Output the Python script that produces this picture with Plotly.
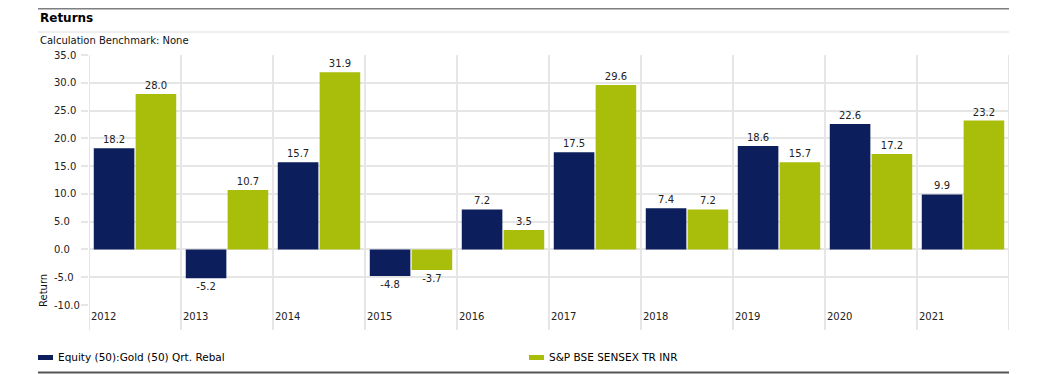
import plotly.graph_objects as go

years = ["2012", "2013", "2014", "2015", "2016", "2017", "2018", "2019", "2020", "2021"]
equity_gold = [18.2, -5.2, 15.7, -4.8, 7.2, 17.5, 7.4, 18.6, 22.6, 9.9]
sensex = [28.0, 10.7, 31.9, -3.7, 3.5, 29.6, 7.2, 15.7, 17.2, 23.2]
series_names = ["Equity (50):Gold (50) Qrt. Rebal", "S&P BSE SENSEX TR INR"]
y_ticks = [-10, -5, 0, 5, 10, 15, 20, 25, 30, 35]

NAVY = "#0c1f5c"
GREEN = "#a9bd0b"
GRID = "#e6e6e6"
FONT = "DejaVu Sans, Verdana, sans-serif"

OFF = 8  # page body margin offset
W, H = 1051 - OFF, 374 - OFF
L, R, T, B = 89 - OFF, 42, 55 - OFF, 69
pw = W - L - R
ph = H - T - B

xpos = list(range(len(years)))

fig = go.Figure()
for name, vals, col in [(series_names[0], equity_gold, NAVY), (series_names[1], sensex, GREEN)]:
    fig.add_trace(go.Bar(
        x=xpos, y=vals, name=name, marker=dict(color=col, line=dict(width=0)),
        text=[f"{v:.1f}" for v in vals], textposition="outside",
        textfont=dict(family=FONT, size=10, color="#222222"),
        cliponaxis=False, showlegend=False,
    ))


def px_x(x):
    return (x - OFF - L) / pw


def px_y(y):
    return (H - B - (y - OFF)) / ph


shapes = []
for i in range(len(years) + 1):
    shapes.append(dict(type="line", xref="x", yref="paper", x0=i - 0.5, x1=i - 0.5,
                       y0=-25 / ph, y1=1, line=dict(color=GRID, width=2), layer="below"))

annotations = []
for i, yr in enumerate(years):
    annotations.append(dict(x=i - 0.5, xref="x", y=px_y(316), yref="paper", text=yr,
                            showarrow=False, xanchor="left", yanchor="middle", xshift=0,
                            font=dict(family=FONT, size=10, color="#222222")))

# left-aligned y tick labels
for v in y_ticks:
    annotations.append(dict(x=px_x(52), xref="paper", y=v, yref="y", text=f"{v:.1f}",
                            showarrow=False, xanchor="left", yanchor="middle",
                            font=dict(family=FONT, size=10, color="#222222")))

shapes.append(dict(type="line", xref="paper", yref="paper", x0=px_x(38), x1=px_x(1009),
                   y0=px_y(8.5), y1=px_y(8.5), line=dict(color="#7f7f7f", width=2)))
shapes.append(dict(type="line", xref="paper", yref="paper", x0=px_x(38), x1=px_x(1009),
                   y0=px_y(32), y1=px_y(32), line=dict(color="#dddddd", width=1)))
shapes.append(dict(type="line", xref="paper", yref="paper", x0=px_x(38), x1=px_x(1009),
                   y0=px_y(372.5), y1=px_y(372.5), line=dict(color="#555555", width=2)))
annotations.append(dict(x=px_x(38), y=px_y(18), xref="paper", yref="paper", text="<b>Returns</b>",
                        showarrow=False, xanchor="left", yanchor="middle",
                        font=dict(family=FONT, size=12, color="#000000")))
annotations.append(dict(x=px_x(38), y=px_y(41), xref="paper", yref="paper",
                        text="Calculation Benchmark: None",
                        showarrow=False, xanchor="left", yanchor="middle",
                        font=dict(family=FONT, size=10, color="#111111")))
annotations.append(dict(x=px_x(43), y=px_y(291), xref="paper", yref="paper", text="Return",
                        showarrow=False, xanchor="center", yanchor="middle", textangle=-90,
                        font=dict(family=FONT, size=10, color="#111111")))

legend_pos = [(38, 56), (529, 547)]
for (sx, tx), name, col in zip(legend_pos, series_names, [NAVY, GREEN]):
    shapes.append(dict(type="rect", xref="paper", yref="paper", x0=px_x(sx), x1=px_x(sx + 15),
                       y0=px_y(360), y1=px_y(355), line=dict(width=0), fillcolor=col))
    annotations.append(dict(x=px_x(tx), y=px_y(357), xref="paper", yref="paper", text=name,
                            showarrow=False, xanchor="left", yanchor="middle",
                            font=dict(family=FONT, size=10.5, color="#000000")))

fig.update_layout(
    width=W, height=H,
    margin=dict(l=L, r=R, t=T, b=B, pad=0),
    paper_bgcolor="white", plot_bgcolor="white",
    barmode="group", bargap=0.09, bargroupgap=0.03,
    showlegend=False,
    shapes=shapes, annotations=annotations,
    xaxis=dict(range=[-0.5, len(years) - 0.5], showgrid=False, zeroline=False,
               showticklabels=False, ticks="", showline=False, fixedrange=True),
    yaxis=dict(range=[-10, 35], tickvals=y_ticks, showticklabels=False,
               showgrid=True, gridcolor=GRID, gridwidth=2, zeroline=False,
               ticks="outside", ticklen=7, tickwidth=2, tickcolor=GRID,
               showline=False, fixedrange=True),
)

fig.write_html("out.html")
